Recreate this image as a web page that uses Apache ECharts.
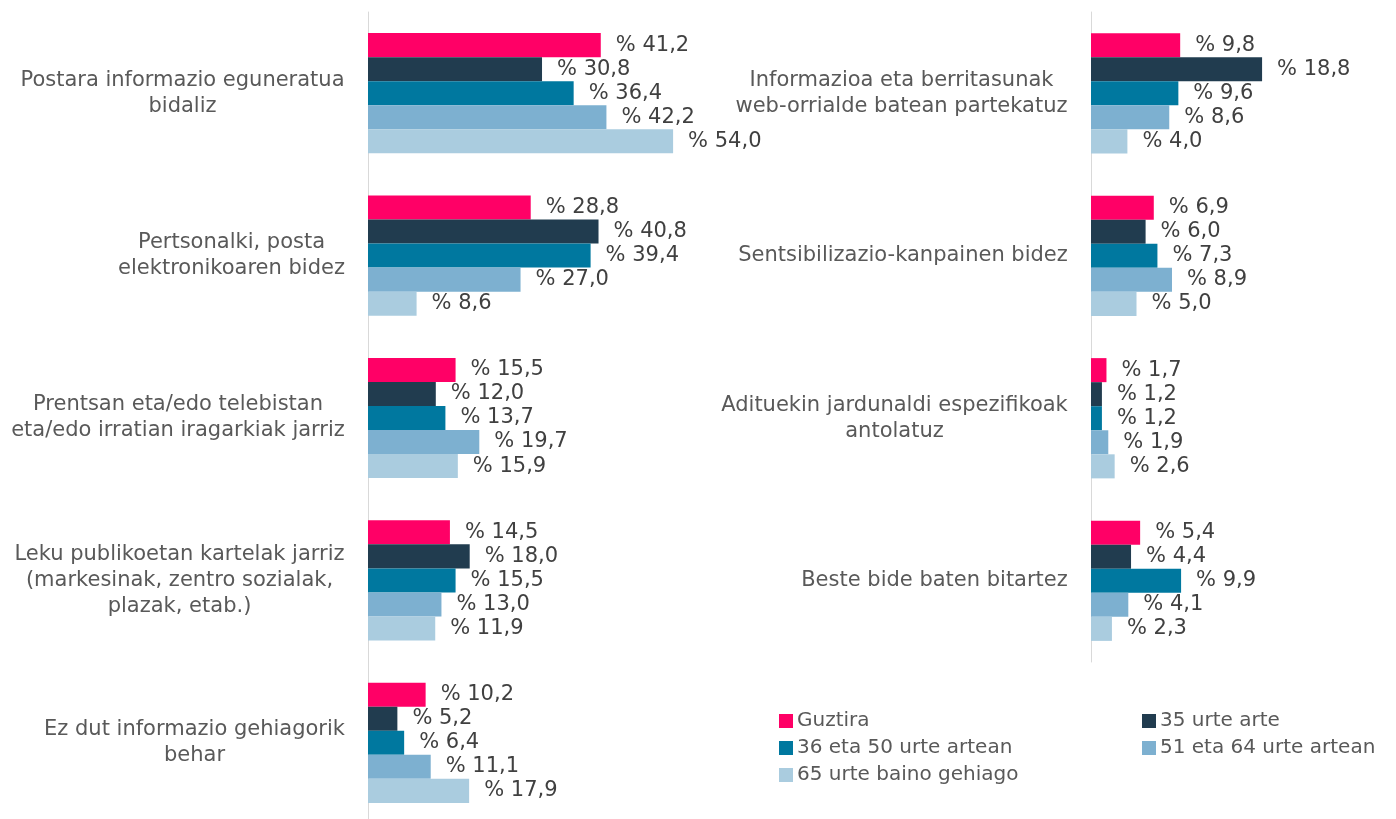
<!DOCTYPE html>
<html>
<head>
<meta charset="utf-8">
<script src="https://cdn.jsdelivr.net/npm/echarts@6/dist/echarts.min.js"></script>
<style>
  html, body { margin: 0; padding: 0; background: #fff; }
  #chart { width: 1396px; height: 819px; }
</style>
</head>
<body>
<div id="chart"></div>
<script>
// kategoriak (ezkerreko panela lehenik, gero eskuinekoa)
const categoriesLeft = [
  'Postara informazio eguneratua\nbidaliz',
  'Pertsonalki, posta\nelektronikoaren bidez',
  'Prentsan eta/edo telebistan\neta/edo irratian iragarkiak jarriz',
  'Leku publikoetan kartelak jarriz\n(markesinak, zentro sozialak,\nplazak, etab.)',
  'Ez dut informazio gehiagorik\nbehar'
]
const categoriesRight = [
  'Informazioa eta berritasunak\nweb-orrialde batean partekatuz',
  'Sentsibilizazio-kanpainen bidez',
  'Adituekin jardunaldi espezifikoak\nantolatuz',
  'Beste bide baten bitartez'
]

const seriesNames = ['Guztira', '35 urte arte', '36 eta 50 urte artean', '51 eta 64 urte artean', '65 urte baino gehiago']
const seriesColors = ['#FF0066', '#213C4F', '#00789F', '#7DB0D0', '#AACCDF']

// balioak: 5 ezkerreko + 4 eskuineko kategoria
const guztira = [41.2, 28.8, 15.5, 14.5, 10.2, 9.8, 6.9, 1.7, 5.4]
const arte35 = [30.8, 40.8, 12.0, 18.0, 5.2, 18.8, 6.0, 1.2, 4.4]
const artean36_50 = [36.4, 39.4, 13.7, 15.5, 6.4, 9.6, 7.3, 1.2, 9.9]
const artean51_64 = [42.2, 27.0, 19.7, 13.0, 11.1, 8.6, 8.9, 1.9, 4.1]
const gehiago65 = [54.0, 8.6, 15.9, 11.9, 17.9, 4.0, 5.0, 2.6, 2.3]
const seriesValues = [guztira, arte35, artean36_50, artean51_64, gehiago65]

const FONT = '"DejaVu Sans", Verdana, sans-serif'
const FONT_SIZE = 20
const CAT_FONT_SIZE = 21

// lerro bakoitza zentratzeko, etiketa bakoitzaren lerro luzeena neurtu
const ctx = document.createElement('canvas').getContext('2d')
ctx.font = CAT_FONT_SIZE + 'px "DejaVu Sans"'
const buildRich = (cats, prefix) => {
  const rich = {}
  cats.forEach((c, i) => {
    const w = Math.max(...c.split('\n').map(l => ctx.measureText(l).width))
    rich[prefix + i] = {
      width: Math.ceil(w) + 2,
      align: 'center',
      fontSize: CAT_FONT_SIZE,
      fontFamily: FONT,
      color: '#595959',
      lineHeight: 26
    }
  })
  return rich
}

const fmtValue = (v) => '% ' + v.toFixed(1).replace('.', ',')

const makeYAxis = (gridIndex, cats, prefix) => ({
  type: 'category',
  gridIndex: gridIndex,
  data: cats,
  inverse: true,
  axisLine: { show: true, lineStyle: { color: '#D9D9D9', width: 1 } },
  axisTick: { show: false },
  axisLabel: {
    margin: 22,
    align: 'right',
    formatter: (value, index) => value.split('\n').map(l => '{' + prefix + index + '|' + l + '}').join('\n'),
    rich: buildRich(cats, prefix)
  }
})

const makeXAxis = (gridIndex, max) => ({
  type: 'value',
  gridIndex: gridIndex,
  min: 0,
  max: max,
  show: false,
  splitLine: { show: false }
})

const series = []
seriesNames.forEach((name, s) => {
  ;[0, 1].forEach(panel => {
    const vals = panel === 0 ? seriesValues[s].slice(0, 5) : seriesValues[s].slice(5)
    series.push({
      name: name,
      type: 'bar',
      xAxisIndex: panel,
      yAxisIndex: panel,
      data: vals,
      barGap: '0%',
      barCategoryGap: '26%',
      itemStyle: { color: seriesColors[s] },
      label: {
        show: true,
        position: 'right',
        distance: 15,
        formatter: (p) => fmtValue(p.value),
        fontSize: 21,
        fontFamily: FONT,
        color: '#404040'
      },
      emphasis: { disabled: true }
    })
  })
})

const legendBase = {
  orient: 'vertical',
  icon: 'rect',
  itemWidth: 14,
  itemHeight: 14,
  itemGap: 3,
  textStyle: { fontSize: FONT_SIZE, fontFamily: FONT, color: '#595959', lineHeight: 24, padding: [0, 0, 0, -1] }
}

const chart = echarts.init(document.getElementById('chart'))
chart.setOption({
  animation: false,
  grid: [
    { left: 368, top: 12, width: 339, height: 812, outerBoundsMode: 'none', containLabel: false },
    { left: 1091, top: 12, width: 182, height: 650, outerBoundsMode: 'none', containLabel: false }
  ],
  xAxis: [makeXAxis(0, 60), makeXAxis(1, 20)],
  yAxis: [makeYAxis(0, categoriesLeft, 'l'), makeYAxis(1, categoriesRight, 'r')],
  legend: [
    Object.assign({}, legendBase, {
      left: 774, top: 704,
      data: [seriesNames[0], seriesNames[2], seriesNames[4]]
    }),
    Object.assign({}, legendBase, {
      left: 1137, top: 704,
      data: [seriesNames[1], seriesNames[3]]
    })
  ],
  series: series
})

window.addEventListener('resize', () => {
  chart.resize()
})
</script>
</body>
</html>
